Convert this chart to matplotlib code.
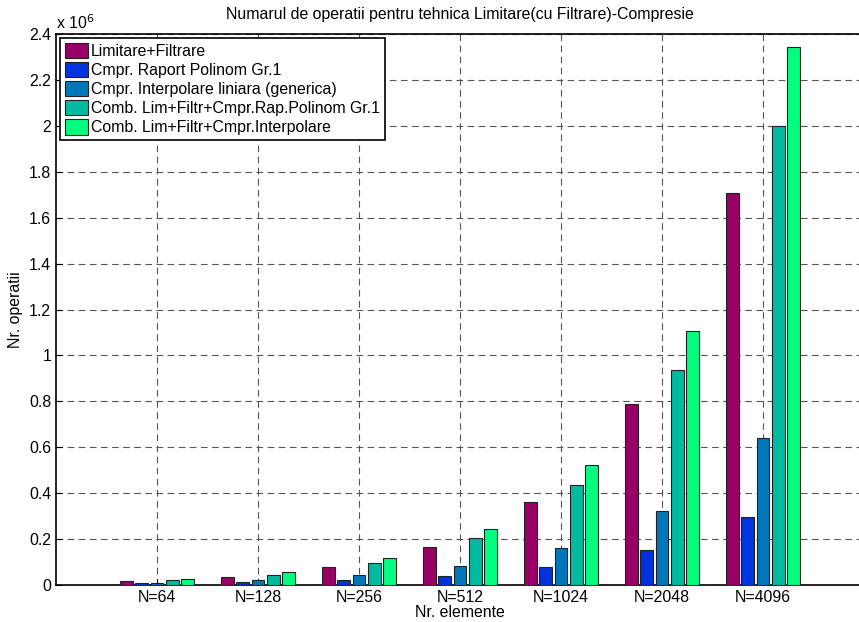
import matplotlib.pyplot as plt
import numpy as np

plt.rcParams["font.family"] = ["Liberation Sans", "DejaVu Sans"]

categories = ["N=64", "N=128", "N=256", "N=512", "N=1024", "N=2048", "N=4096"]
series_names = [
    "Limitare+Filtrare",
    "Cmpr. Raport Polinom Gr.1",
    "Cmpr. Interpolare liniara (generica)",
    "Comb. Lim+Filtr+Cmpr.Rap.Polinom Gr.1",
    "Comb. Lim+Filtr+Cmpr.Interpolare",
]
# values in units of 1e6 operations
lim_filtr = [0.017, 0.034, 0.077, 0.164, 0.363, 0.790, 1.707]
cmpr_raport = [0.007, 0.012, 0.021, 0.038, 0.077, 0.151, 0.297]
cmpr_interp = [0.010, 0.020, 0.042, 0.081, 0.160, 0.321, 0.639]
comb_raport = [0.022, 0.045, 0.094, 0.203, 0.437, 0.935, 2.000]
comb_interp = [0.026, 0.055, 0.116, 0.245, 0.523, 1.108, 2.345]

colors = ["#990066", "#0033dd", "#0077bb", "#00bb9f", "#00ff7f"]

series = [lim_filtr, cmpr_raport, cmpr_interp, comb_raport, comb_interp]

fig = plt.figure(figsize=(8.59, 6.22), dpi=100)
ax = fig.add_axes([56 / 859, 37 / 622, 808 / 859, 551 / 622])

x = np.arange(1, len(categories) + 1)
pitch = 0.153
width = 0.128
for i, (vals, name, col) in enumerate(zip(series, series_names, colors)):
    ax.bar(x + (i - 2) * pitch, np.array(vals) * 1e6, width, color=col,
           edgecolor="#222222", linewidth=0.8, label=name, zorder=3)

fs = 11.4
ax.set_xlim(0, 8)
ax.set_ylim(0, 2.4e6)
ax.set_xticks(x)
ax.set_xticklabels(categories, fontsize=fs)
yt = np.arange(0, 2.41, 0.2)
ax.set_yticks(yt * 1e6)
ax.set_yticklabels(["0"] + ["%g" % v for v in yt[1:]], fontsize=fs)
ax.text(0.0, 1.003, "x 10$^6$", transform=ax.transAxes, fontsize=fs, va="bottom")

ax.grid(True, linestyle=(0, (6, 4)), color="#555555", linewidth=0.8, zorder=0)
ax.tick_params(direction="in", length=4, top=False, right=False)
ax.spines["right"].set_visible(False)
for s in ["left", "bottom", "top"]:
    ax.spines[s].set_linewidth(1.2)

ax.set_title("Numarul de operatii pentru tehnica Limitare(cu Filtrare)-Compresie",
             fontsize=fs, pad=11)
ax.set_xlabel("Nr. elemente", fontsize=fs, labelpad=0)
ax.set_ylabel("Nr. operatii", fontsize=fs, labelpad=4)

leg = ax.legend(loc="upper left", fontsize=fs, fancybox=False, framealpha=1,
                edgecolor="black", borderpad=0.3, labelspacing=0.2,
                handlelength=1.5, handleheight=1.1, handletextpad=0.15,
                borderaxespad=0.25)
leg.get_frame().set_linewidth(1.2)

fig.savefig("out.png", dpi=100)
